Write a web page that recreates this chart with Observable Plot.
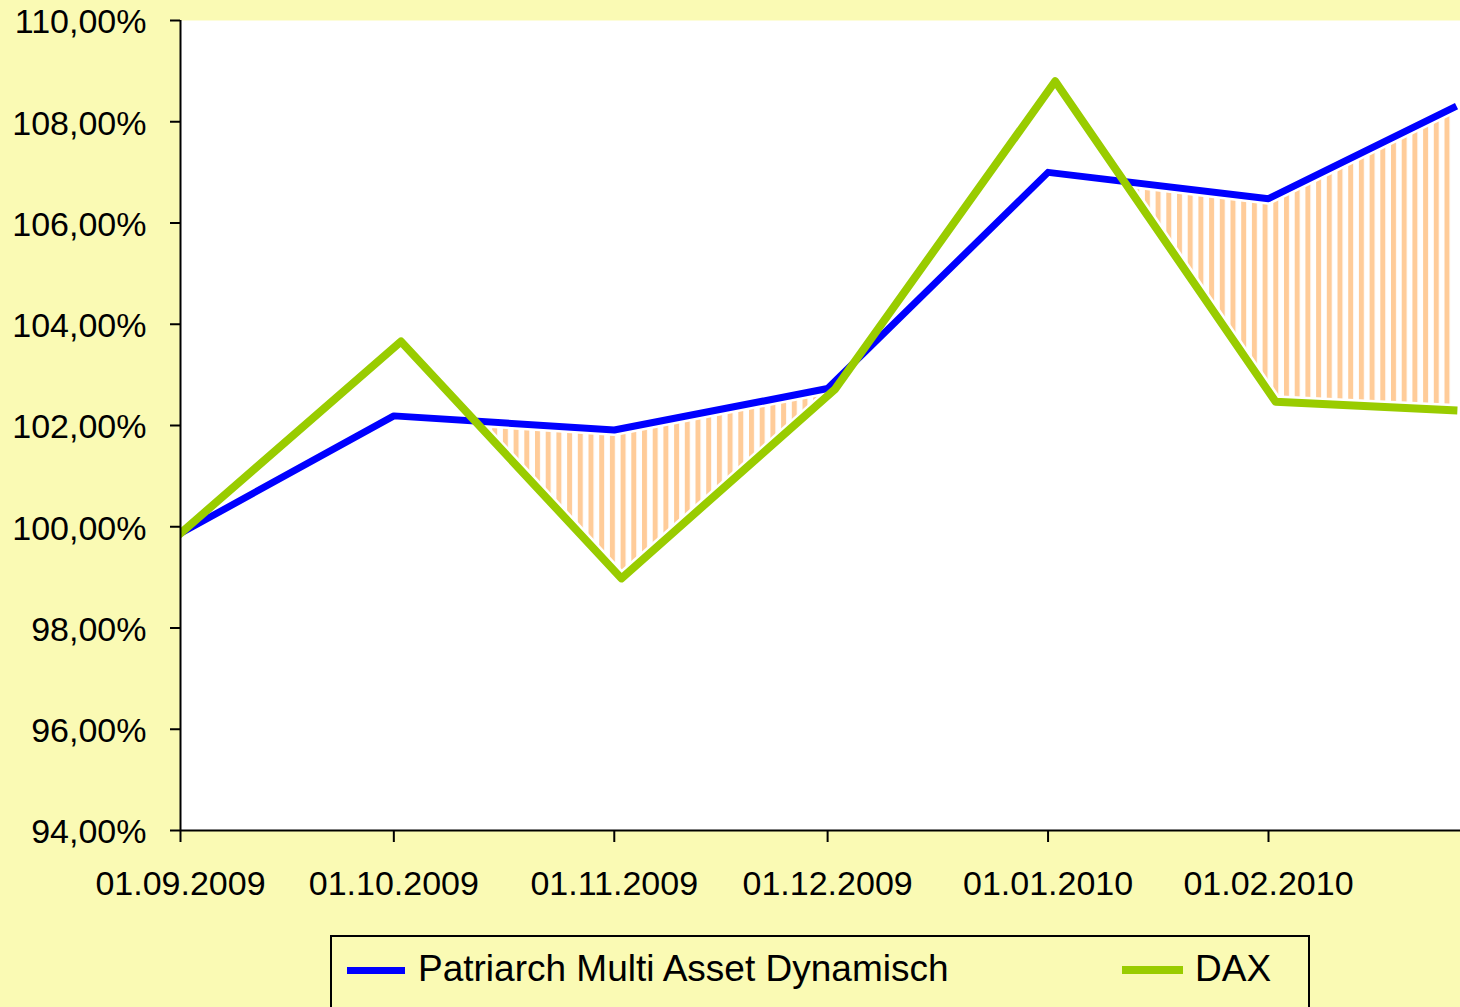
<!DOCTYPE html>
<html><head><meta charset="utf-8">
<script src="https://cdn.jsdelivr.net/npm/d3@7"></script>
<script src="https://cdn.jsdelivr.net/npm/@observablehq/plot@0.6"></script>
<style>
html,body{margin:0;padding:0;background:#FAFAB4;overflow:hidden;width:1460px;height:1007px;}
#chart svg{display:block}
.legend{position:absolute;left:330px;top:935px;width:980px;height:110px;border:2px solid #000;box-sizing:border-box;font-family:"Liberation Sans",Arial,sans-serif;font-size:37px;line-height:40px;color:#000;}
.legend .sw{position:absolute;}
.legend .lb{position:absolute;white-space:nowrap;}
</style></head>
<body>
<div id="chart"></div>
<div class="legend" id="legend"></div>
<script>
// ---- data ----
const fundDates = ["2009-09-01","2009-10-01","2009-11-01","2009-12-01","2010-01-01","2010-02-01","2010-02-27"];
const fundValues = [99.87, 102.19, 101.91, 102.73, 107.00, 106.48, 108.28];
const daxDates = ["2009-09-01","2009-10-02","2009-11-02","2009-12-02","2010-01-02","2010-02-02","2010-02-27"];
const daxValues = [99.87, 103.66, 98.98, 102.71, 108.80, 102.47, 102.30];
const yTicks = [94, 96, 98, 100, 102, 104, 106, 108, 110];
const xTicks = ["2009-09-01","2009-10-01","2009-11-01","2009-12-01","2010-01-01","2010-02-01"];
const xDomainDates = ["2009-09-01","2010-02-28"];
const seriesNames = ["Patriarch Multi Asset Dynamisch","DAX"];
const seriesColors = ["#0000FF","#99CC00"];
const hatchColor = "#FFCC99";

const parse = d3.utcParse("%Y-%m-%d");
const fund = fundDates.map((d,i)=>({date:parse(d), value:fundValues[i]}));
const dax = daxDates.map((d,i)=>({date:parse(d), value:daxValues[i]}));
const xDomain = xDomainDates.map(parse);
const yMin = yTicks[0], yMax = yTicks[yTicks.length-1];
const fmtPct = d => d.toFixed(2).replace(".", ",") + "%";

const chart = Plot.plot({
  width: 1460, height: 925,
  marginLeft: 180, marginRight: 0, marginTop: 20, marginBottom: 95,
  style: {fontFamily: "'Liberation Sans', Arial, sans-serif", fontSize: "34px", background: "transparent", color: "#000", overflow: "visible"},
  x: {type: "utc", domain: xDomain},
  y: {domain: [yMin, yMax]},
  marks: [
    Plot.frame({fill: "white", stroke: "none"}),
    Plot.areaY(fund, {x: "date", y1: fund.map(() => yMin), y2: "value", fill: hatchColor}),
    Plot.areaY(dax, {x: "date", y1: "value", y2: dax.map(() => yMax), fill: "black"}),
    Plot.line(fund, {x: "date", y: "value", stroke: "white", strokeWidth: 12, clip: true}),
    Plot.line(dax, {x: "date", y: "value", stroke: "white", strokeWidth: 13, clip: true}),
    Plot.line(fund, {x: "date", y: "value", stroke: seriesColors[0], strokeWidth: 7, strokeLinecap: "square", clip: true}),
    Plot.line(dax, {x: "date", y: "value", stroke: seriesColors[1], strokeWidth: 8, strokeLinecap: "square", clip: true}),
    Plot.ruleX([xDomain[0]], {stroke: "black", strokeWidth: 2}),
    Plot.ruleY([yMin], {stroke: "black", strokeWidth: 2}),
    Plot.axisY({ticks: yTicks, tickSize: 10, tickFormat: () => "", strokeWidth: 2, label: null}),
    Plot.axisY({ticks: yTicks, tickSize: 0, tickPadding: 34, dy: 2, tickFormat: fmtPct, fontSize: 34, label: null}),
    Plot.axisX({ticks: xTicks.map(parse), tickSize: 12, tickPadding: 28, tickFormat: d3.utcFormat("%d.%m.%Y"), strokeWidth: 2, fontSize: 34, label: null})
  ]
});
document.getElementById("chart").appendChild(chart);

// hatch pattern + clip to region above DAX line
const svg = d3.select(chart);
const defs = svg.insert("defs", ":first-child");
const pat = defs.append("pattern").attr("id", "hatch").attr("patternUnits", "userSpaceOnUse")
  .attr("width", 10.7).attr("height", 20);
pat.append("rect").attr("width", 10.7).attr("height", 20).attr("fill", "white");
pat.append("rect").attr("x", 0).attr("width", 5).attr("height", 20).attr("fill", hatchColor);
const areas = svg.selectAll('g[aria-label="area"]').nodes();
if (areas.length >= 2) {
  const hatchG = d3.select(areas[0]);
  const zone = d3.select(areas[1]);
  const cp = defs.append("clipPath").attr("id", "aboveDax");
  zone.selectAll("path").each(function(){
    const p = cp.append("path").attr("d", this.getAttribute("d"));
    const t = zone.attr("transform"); if (t) p.attr("transform", t);
  });
  zone.remove();
  hatchG.attr("clip-path", "url(#aboveDax)").selectAll("path").attr("fill", "url(#hatch)");
}

// legend
const lg = d3.select("#legend");
const items = [
  {sw: 15, swW: 58, swH: 7, lb: 86},
  {sw: 790, swW: 61, swH: 8, lb: 863}
];
items.forEach((it, i) => {
  lg.append("div").attr("class", "sw")
    .style("left", it.sw + "px").style("top", (33 - it.swH / 2) + "px")
    .style("width", it.swW + "px").style("height", it.swH + "px").style("background", seriesColors[i]);
  lg.append("div").attr("class", "lb").style("left", it.lb + "px").style("top", "12px").text(seriesNames[i]);
});
</script>
</body></html>
